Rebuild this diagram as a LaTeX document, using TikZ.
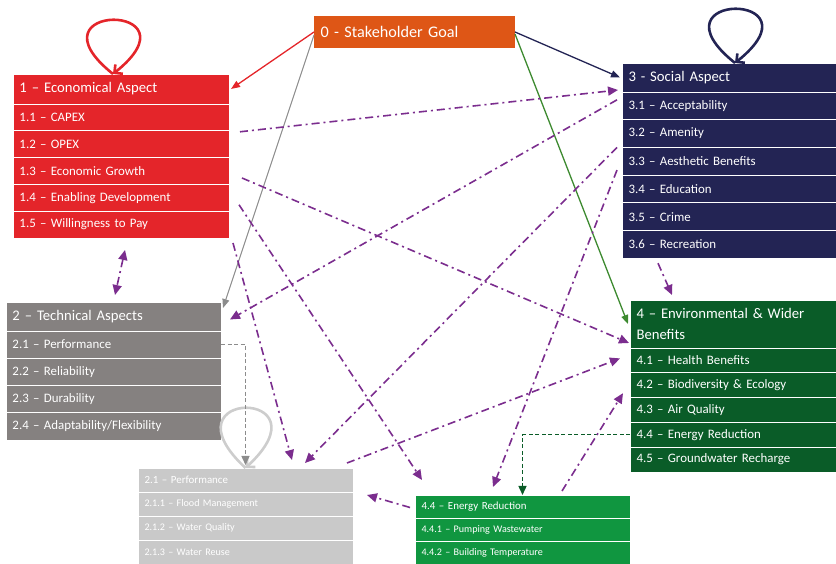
\documentclass[tikz,border=0pt]{standalone}
\usepackage{fontspec}
\setmainfont{Carlito}
\usepackage{tikz}
\usetikzlibrary{arrows.meta, positioning, calc}
\definecolor{goalorange}{RGB}{222,86,22}
\definecolor{ecored}{RGB}{228,37,42}
\definecolor{techgray}{RGB}{133,129,128}
\definecolor{socnavy}{RGB}{35,36,84}
\definecolor{envgreen}{RGB}{10,92,40}
\definecolor{perfgray}{RGB}{201,201,201}
\definecolor{energygreen}{RGB}{16,150,64}
\definecolor{linkpurple}{RGB}{123,45,142}
\definecolor{arrowgreen}{RGB}{61,138,48}
\definecolor{arrowgray}{RGB}{140,140,140}
\definecolor{loopgray}{RGB}{205,205,205}
\tikzset{
  cell/.style={rectangle, draw=white, line width=0.8pt, text=white, align=left,
    inner xsep=6.5pt, inner ysep=0pt, outer sep=0pt},
  hdrfont/.style={font=\fontsize{14.7}{21}\selectfont},
  rowfont/.style={font=\fontsize{12.9}{15}\selectfont},
  smallfont/.style={font=\fontsize{10.1}{12}\selectfont},
  subhdrfont/.style={font=\fontsize{10.9}{13}\selectfont},
  goalcell/.style={cell, draw=none, fill=goalorange, text width=188pt, minimum height=32pt,
    font=\fontsize{16.2}{19}\selectfont},
  ecocell/.style={cell, fill=ecored, text width=203pt},
  techcell/.style={cell, fill=techgray, text width=202pt},
  soccell/.style={cell, fill=socnavy, text width=201pt},
  envcell/.style={cell, fill=envgreen, text width=193pt},
  perfcell/.style={cell, fill=perfgray, text width=202pt, minimum height=24pt},
  energycell/.style={cell, fill=energygreen, text width=202pt, minimum height=23pt},
  linkline/.style={line width=1.6pt, color=linkpurple,
    dash pattern=on 8pt off 4pt on 2pt off 4pt},
  link/.style={linkline, -{Triangle[length=10pt,width=9pt]}},
  bilink/.style={linkline, {Triangle[length=10pt,width=9pt]}-{Triangle[length=10pt,width=9pt]}},
  goalarrow/.style={-{Triangle[length=9pt,width=7pt]}, line width=1.3pt},
  loop/.style={-{Straight Barb[length=6pt,width=12pt]}, line width=2.6pt},
  dasharrow/.style={-{Triangle[length=9pt,width=8pt]}, line width=1.4pt,
    dash pattern=on 4pt off 2.5pt}
}

\begin{document}
\begin{tikzpicture}[x=1pt, y=1pt]
  \useasboundingbox (0,0) rectangle (836,564);

  % Goal
  \node[goalcell, anchor=north west] (g) at (314,548) {0 - Stakeholder Goal};

  % Economical aspect
  \node[ecocell, hdrfont, minimum height=30pt, anchor=north west] (e0) at (13,490) {1 -- Economical Aspect};
  \foreach \t [count=\i, remember=\i as \j (initially 0)] in
    {1.1 -- CAPEX, 1.2 -- OPEX, 1.3 -- Economic Growth, 1.4 -- Enabling Development, 1.5 -- Willingness to Pay}
    \node[ecocell, rowfont, minimum height=26.8pt, below=0pt of e\j] (e\i) {\t};

  % Technical aspects
  \node[techcell, hdrfont, minimum height=29pt, anchor=north west] (t0) at (6,262) {2 -- Technical Aspects};
  \foreach \t [count=\i, remember=\i as \j (initially 0)] in
    {2.1 -- Performance, 2.2 -- Reliability, 2.3 -- Durability, 2.4 -- Adaptability/Flexibility}
    \node[techcell, rowfont, minimum height=27.25pt, below=0pt of t\j] (t\i) {\t};

  % Social aspect
  \node[soccell, hdrfont, minimum height=29pt, anchor=north west] (s0) at (622,501) {3 - Social Aspect};
  \foreach \t [count=\i, remember=\i as \j (initially 0)] in
    {3.1 -- Acceptability, 3.2 -- Amenity, 3.3 -- Aesthetic Benefits, 3.4 -- Education, 3.5 -- Crime, 3.6 -- Recreation}
    \node[soccell, rowfont, minimum height=27.7pt, below=0pt of s\j] (s\i) {\t};

  % Environmental & wider benefits
  \node[envcell, hdrfont, minimum height=48pt, anchor=north west] (n0) at (630,264) {4 -- Environmental \& Wider\\Benefits};
  \foreach \t [count=\i, remember=\i as \j (initially 0)] in
    {4.1 -- Health Benefits, 4.2 -- Biodiversity \& Ecology, 4.3 -- Air Quality, 4.4 -- Energy Reduction, 4.5 -- Groundwater Recharge}
    \node[envcell, rowfont, minimum height=24.8pt, below=0pt of n\j] (n\i) {\t};

  % Performance breakdown
  \node[perfcell, subhdrfont, anchor=north west] (p0) at (138,96) {2.1 -- Performance};
  \foreach \t [count=\i, remember=\i as \j (initially 0)] in
    {2.1.1 -- Flood Management, 2.1.2 -- Water Quality, 2.1.3 -- Water Reuse}
    \node[perfcell, smallfont, below=0pt of p\j] (p\i) {\t};

  % Energy reduction breakdown
  \node[energycell, subhdrfont, anchor=north west] (q0) at (415,69) {4.4 -- Energy Reduction};
  \foreach \t [count=\i, remember=\i as \j (initially 0)] in
    {4.4.1 -- Pumping Wastewater, 4.4.2 -- Building Temperature}
    \node[energycell, smallfont, below=0pt of q\j] (q\i) {\t};

  % Goal links
  \draw[goalarrow, ecored] (g.west) -- ([xshift=2pt]e0.east);
  \draw[goalarrow, arrowgray, line width=1pt] ([yshift=-3pt]g.west) -- ([xshift=2pt,yshift=-6pt]t0.north east);
  \draw[goalarrow, socnavy] (g.east) -- ([xshift=-2pt]s0.west);
  \draw[goalarrow, arrowgreen] ([yshift=-2pt]g.east) -- ([xshift=-2pt]n0.west);

  % Self loops
  \draw[loop, ecored] ($(e0.north)+(-8,0)$) .. controls +(-90,72) and +(90,72) .. ($(e0.north)+(-8,0)$);
  \draw[loop, socnavy] ($(s0.north)+(6,0)$) .. controls +(-90,72) and +(90,72) .. ($(s0.north)+(6,0)$);
  \draw[loop, loopgray] (p0.north) .. controls +(-86,80) and +(86,80) .. (p0.north);

  % Drill-down links
  \draw[dasharrow, arrowgray] (t1.east) -| ([yshift=3pt]p0.north);
  \draw[dasharrow, envgreen] (n4.west) -| (q0.north);

  % Cross links
  \draw[link] ($(e1.south east)+(11,-1)$) -- ($(s0.south west)+(-4,2)$);
  \draw[link] ($(e3.east)+(13,-7)$) -- ($(n0.south west)+(-1,5)$);
  \draw[link] ($(e5.south east)+(4,-5)$) -- ($(p0.north east)+(-61,8)$);
  \draw[link] ($(e4.east)+(10,-7)$) -- ($(q0.north west)+(7,15)$);
  \draw[bilink] ($(e5.south)+(4,-12)$) -- ($(t0.north)+(1.5,7)$);
  \draw[link] ($(s1.west)+(-5,6)$) -- ($(t0.east)+(9,-3)$);
  \draw[link] ($(s3.north west)+(-5,0)$) -- ($(p0.north east)+(-48,5)$);
  \draw[link] ($(s6.south west)+(36,-5)$) -- ($(n0.north west)+(42,5)$);
  \draw[link] ($(s3.south west)+(-5,5)$) -- ($(q0.north west)+(78,8)$);
  \draw[link] ($(q0.north east)+(-68,4)$) -- ($(n2.west)+(-7,-8)$);
  \draw[link] ($(p0.north east)+(-6,5)$) -- ($(n1.west)+(-10,2)$);
  \draw[link] ($(q0.west)+(-5,-1)$) -- ($(p0.south east)+(14,-3)$);
\end{tikzpicture}
\end{document}
